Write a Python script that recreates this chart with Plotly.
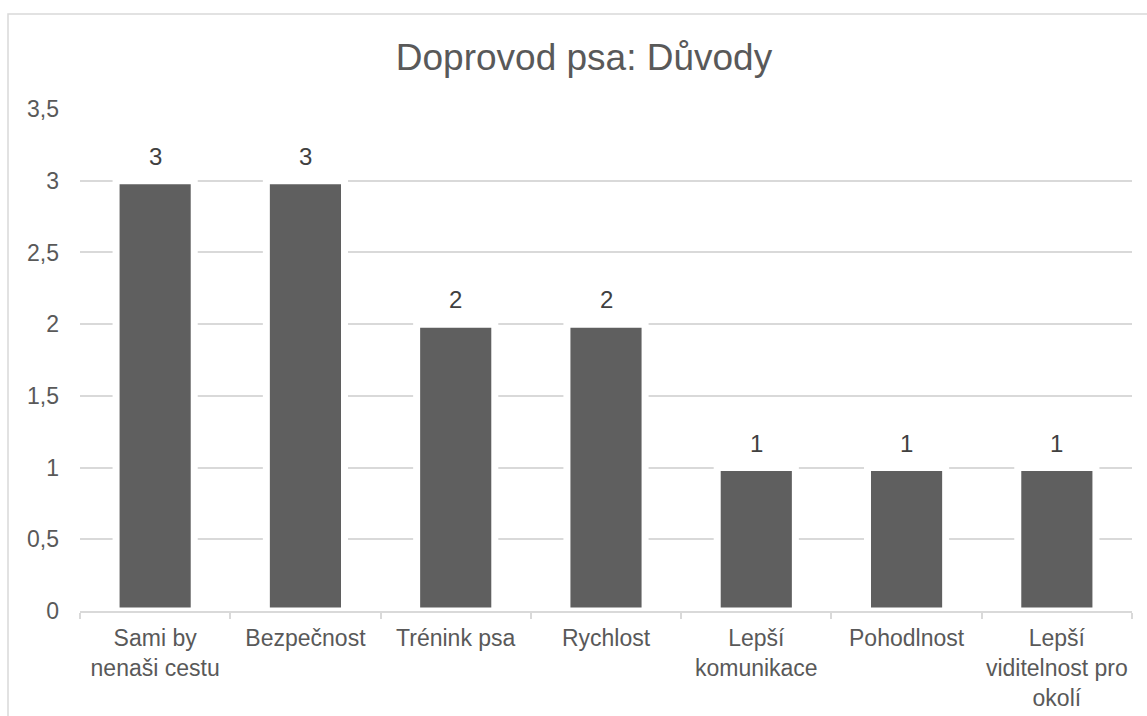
import plotly.graph_objects as go

# Reasons for having the dog accompany you (survey counts)
categories = [
    "Sami by<br>nenaši cestu",
    "Bezpečnost",
    "Trénink psa",
    "Rychlost",
    "Lepší<br>komunikace",
    "Pohodlnost",
    "Lepší<br>viditelnost pro<br>okolí",
]
counts = [3, 3, 2, 2, 1, 1, 1]
y_ticks = [0, 0.5, 1, 1.5, 2, 2.5, 3, 3.5]

W, H = 1147, 716
L, R, T, B = 80, 15, 109, 105
FONT = "Liberation Sans, Arial, sans-serif"
GRID = "#d9d9d9"
TEXT = "#595959"

fig = go.Figure(
    go.Bar(
        x=categories,
        y=counts,
        marker=dict(color="#5f5f5f", line=dict(color="white", width=7)),
        hoverinfo="x+y",
    )
)

# value labels above each bar
for c, v in zip(categories, counts):
    fig.add_annotation(
        x=c, y=v, text=str(v), showarrow=False,
        yanchor="bottom", yshift=9,
        font=dict(family=FONT, size=24, color="#404040"),
    )

# chart border (extends past the right and bottom edges)
pw, ph = W - L - R, H - T - B
fig.add_shape(
    type="rect", xref="paper", yref="paper",
    x0=(8 - L) / pw, x1=(W + 20 - L) / pw,
    y0=-(30 + B) / ph, y1=(H - B - 14) / ph,
    line=dict(color=GRID, width=1.5), fillcolor="rgba(0,0,0,0)",
    layer="below",
)

fig.update_layout(
    width=W, height=H,
    margin=dict(l=L, r=R, t=T, b=B),
    paper_bgcolor="white", plot_bgcolor="white",
    separators=", ",
    bargap=0.48,
    showlegend=False,
    title=dict(
        text="Doprovod psa: Důvody",
        x=584 / W, xanchor="center", xref="container",
        y=1 - 57 / H, yanchor="middle", yref="container",
        font=dict(family=FONT, size=37, color=TEXT),
        automargin=False,
    ),
    xaxis=dict(
        showgrid=False,
        showline=True, linecolor=GRID, linewidth=1.5,
        ticks="outside", tickson="boundaries", ticklen=6,
        tickcolor=GRID, tickwidth=1.5,
        tickfont=dict(family=FONT, size=23, color=TEXT),
        tickangle=0, automargin=False,
        ticklabelstandoff=6,
    ),
    yaxis=dict(
        range=[0, 3.5001],
        tickvals=y_ticks,
        tickformat=",.1~f",
        showgrid=True, gridcolor=GRID, gridwidth=1.5,
        zeroline=False, showline=False, ticks="",
        tickfont=dict(family=FONT, size=23, color=TEXT),
        ticklabelstandoff=20, automargin=False,
    ),
)

fig.write_html("out.html")
